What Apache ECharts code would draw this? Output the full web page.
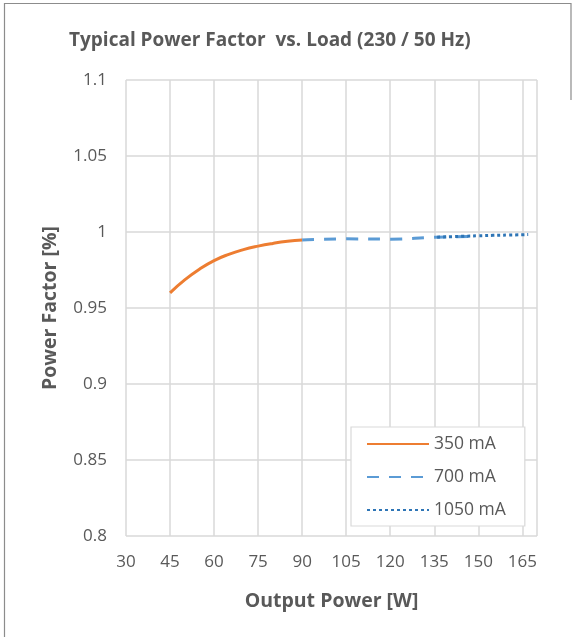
<!DOCTYPE html>
<html><head><meta charset="utf-8">
<script src="https://cdn.jsdelivr.net/npm/echarts@6/dist/echarts.min.js"></script>
<style>html,body{margin:0;padding:0;background:#fff}#c{width:573px;height:637px}</style>
</head><body><div id="c"></div>
<script>
const titleText = 'Typical Power Factor  vs. Load (230 / 50 Hz)';
const xName = 'Output Power [W]';
const yName = 'Power Factor [%]';
const s350x = [45, 50, 55, 60, 65, 70, 75, 80, 85, 90];
const s350y = [0.960, 0.9685, 0.9755, 0.9812, 0.9853, 0.9884, 0.9907, 0.9925, 0.9939, 0.9948];
const s700x = [90, 105, 120, 135, 150];
const s700y = [0.9948, 0.9955, 0.9953, 0.9965, 0.9972];
const s1050x = [136, 145, 150, 155, 160, 167];
const s1050y = [0.9966, 0.9972, 0.9975, 0.9978, 0.9980, 0.9983];
const zip = (a, b) => a.map((v, i) => [v, b[i]]);
const FONT = 'Open Sans';
const GRAY = '#595959';
const chart = echarts.init(document.getElementById('c'), null, {renderer: 'canvas'});
chart.setOption({
  animation: false,
  backgroundColor: '#fff',
  textStyle: {fontFamily: FONT},
  title: {text: titleText, left: 64, top: 26,
    textStyle: {fontFamily: FONT, fontSize: 19, fontWeight: 'bold', color: GRAY}},
  grid: {left: 126, right: 36, top: 80, bottom: 101},
  xAxis: {type: 'value', min: 30, max: 170, interval: 15,
    name: xName, nameLocation: 'middle', nameGap: 55,
    nameTextStyle: {fontFamily: FONT, fontSize: 19.5, fontWeight: 'bold', color: GRAY},
    axisLine: {show: false}, axisTick: {show: false},
    axisLabel: {fontFamily: FONT, fontSize: 17, color: GRAY, margin: 18, showMaxLabel: false},
    splitLine: {show: true, lineStyle: {color: '#d9d9d9', width: 1.5}}},
  yAxis: {type: 'value', min: 0.8, max: 1.1, interval: 0.05,
    name: yName, nameLocation: 'middle', nameGap: 66, nameRotate: 90,
    nameTextStyle: {fontFamily: FONT, fontSize: 19.5, fontWeight: 'bold', color: GRAY},
    axisLine: {show: false}, axisTick: {show: false},
    axisLabel: {fontFamily: FONT, fontSize: 17, color: GRAY, margin: 19,
      formatter: v => String(Math.round(v * 100) / 100)},
    splitLine: {show: true, lineStyle: {color: '#d9d9d9', width: 1.5}}},
  legend: {
    orient: 'vertical', left: 351, top: 427, itemWidth: 62, itemHeight: 14, itemGap: 15,
    padding: [8, 19, 7, 15],
    backgroundColor: '#fff', borderColor: '#d9d9d9', borderWidth: 1.2,
    itemStyle: {opacity: 0},
    textStyle: {fontFamily: FONT, fontSize: 17.5, color: GRAY},
    data: ['350 mA', '700 mA', '1050 mA']
  },
  series: [
    {name: '350 mA', type: 'line', data: zip(s350x, s350y), smooth: true, symbol: 'none',
      lineStyle: {color: '#ED7D31', width: 3}, itemStyle: {color: '#ED7D31'}},
    {name: '700 mA', type: 'line', data: zip(s700x, s700y), smooth: true, symbol: 'none',
      lineStyle: {color: '#5B9BD5', width: 3, type: [12, 10]}, itemStyle: {color: '#5B9BD5'}},
    {name: '1050 mA', type: 'line', data: zip(s1050x, s1050y), smooth: true, symbol: 'none',
      lineStyle: {color: '#2E75B6', width: 3, type: [3, 3]}, itemStyle: {color: '#2E75B6'}}
  ],
  graphic: [
    {type: 'polyline', shape: {points: [[4.5, 637], [4.5, 3.5], [571, 3.5], [571, 100]]},
      style: {stroke: '#8c8c8c', lineWidth: 1.2, fill: null}, silent: true}
  ]
});
</script></body></html>
